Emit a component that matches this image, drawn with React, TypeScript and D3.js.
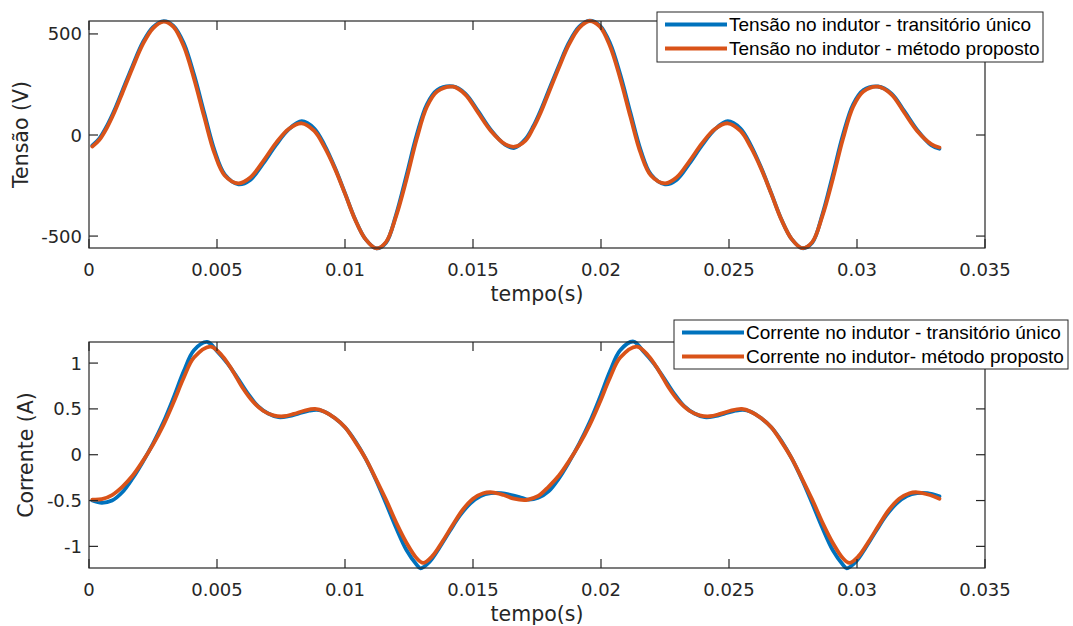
import * as d3 from "d3";

// eixo do tempo, comum aos dois gráficos
const xTicks = [0, 0.005, 0.01, 0.015, 0.02, 0.025, 0.03, 0.035];
const xTickLabels = ["0", "0.005", "0.01", "0.015", "0.02", "0.025", "0.03", "0.035"];
const tensaoTicks = [-500, 0, 500];
const correnteTicks = [-1, -0.5, 0, 0.5, 1];
const correnteTickLabels = ["-1", "-0.5", "0", "0.5", "1"];

// tensão no indutor (V)
const tTensao = [
  0.00013, 0.0004, 0.0007, 0.001, 0.0013, 0.0017, 0.0021, 0.0025, 0.00292, 0.0033,
  0.0037, 0.0041, 0.0045, 0.0049, 0.0053, 0.00584, 0.0063, 0.0068, 0.0073, 0.0078,
  0.00831, 0.0088, 0.0092, 0.0096, 0.01, 0.0104, 0.0108, 0.01123, 0.0116, 0.012,
  0.0124, 0.0128, 0.0132, 0.0136, 0.01422, 0.0147, 0.0152, 0.0157, 0.01625, 0.01662,
  0.01705, 0.01735, 0.01765, 0.01795, 0.01835, 0.01875, 0.01915, 0.01955, 0.01995, 0.02035,
  0.02075, 0.02115, 0.02155, 0.02195, 0.0225, 0.02295, 0.02345, 0.02395, 0.02445, 0.02495,
  0.02545, 0.02585, 0.02625, 0.02665, 0.02705, 0.02745, 0.02786, 0.02825, 0.02865, 0.02905,
  0.02945, 0.02985, 0.03025, 0.03082, 0.03135, 0.03185, 0.03235, 0.0329, 0.03322,
];
const vTransitorio = [
  -52, -18, 45, 125, 218, 342, 458, 534, 563, 540,
  455, 300, 110, -75, -195, -244, -222, -142, -50, 28,
  68, 32, -50, -160, -288, -418, -515, -561, -533, -392,
  -200, 0, 152, 222, 240, 205, 118, 25, -48, -64,
  -20, 42, 124, 218, 342, 458, 536, 566, 542, 455,
  300, 110, -75, -195, -244, -222, -142, -50, 28, 68,
  32, -50, -160, -288, -418, -515, -560, -533, -392, -200,
  0, 152, 222, 240, 205, 118, 25, -50, -68,
];
const vProposto = [
  -57, -25, 36, 115, 207, 332, 448, 528, 561, 535,
  440, 280, 90, -90, -200, -239, -210, -130, -40, 30,
  58, 20, -60, -165, -290, -420, -515, -561, -530, -400,
  -220, -20, 140, 215, 239, 200, 110, 20, -45, -58,
  -28, 34, 113, 207, 332, 448, 530, 564, 537, 440,
  280, 90, -90, -200, -239, -210, -130, -40, 30, 58,
  20, -60, -165, -290, -420, -515, -560, -530, -400, -220,
  -20, 140, 215, 239, 200, 110, 20, -45, -62,
];

// corrente no indutor (A)
const tCorrTrans = [
  0.00013, 0.0005, 0.0009, 0.0013, 0.0017, 0.0021, 0.0025, 0.0029, 0.0033, 0.0037,
  0.0041, 0.00462, 0.005, 0.0054, 0.0058, 0.0062, 0.0066, 0.007, 0.0074, 0.0078,
  0.0082, 0.0086, 0.0089, 0.0092, 0.0096, 0.01, 0.0104, 0.0108, 0.0112, 0.0116,
  0.012, 0.0124, 0.0128, 0.01295, 0.0133, 0.0137, 0.0141, 0.0145, 0.0149, 0.0153,
  0.0157, 0.0161, 0.0165, 0.0169,
  0.01715, 0.01755, 0.01795, 0.01835, 0.01875, 0.01915, 0.01955, 0.01995, 0.02035, 0.02075,
  0.02127, 0.02165, 0.02205, 0.02245, 0.02285, 0.02325, 0.02365, 0.02405, 0.02445, 0.02485,
  0.02525, 0.02555, 0.02585, 0.02625, 0.02665, 0.02705, 0.02745, 0.02785, 0.02825, 0.02865,
  0.02905, 0.02945, 0.0296, 0.02995, 0.03035, 0.03075, 0.03115, 0.03155, 0.03195, 0.03235,
  0.03275, 0.03322,
];
const iTransitorio = [
  -0.5, -0.525, -0.5, -0.41, -0.26, -0.08, 0.12, 0.35, 0.62, 0.91,
  1.14, 1.23, 1.13, 1.0, 0.84, 0.67, 0.53, 0.45, 0.41, 0.42,
  0.45, 0.48, 0.49, 0.47, 0.4, 0.3, 0.15, -0.04, -0.27, -0.53,
  -0.8, -1.04, -1.2, -1.24, -1.17, -1.01, -0.83, -0.66, -0.53, -0.45,
  -0.42, -0.42, -0.44, -0.47,
  -0.49, -0.47, -0.4, -0.26, -0.08, 0.12, 0.35, 0.62, 0.91, 1.14,
  1.235, 1.13, 1.0, 0.84, 0.67, 0.53, 0.45, 0.41, 0.42, 0.45,
  0.48, 0.49, 0.47, 0.4, 0.3, 0.15, -0.04, -0.27, -0.53, -0.8,
  -1.04, -1.2, -1.24, -1.17, -1.01, -0.83, -0.66, -0.53, -0.45, -0.42,
  -0.42, -0.455,
];
const tCorrProp = [
  0.00013, 0.0005, 0.0009, 0.0013, 0.0017, 0.0021, 0.0025, 0.0029, 0.0033, 0.0037,
  0.0041, 0.00475, 0.0052, 0.0056, 0.006, 0.0064, 0.0068, 0.0072, 0.0076, 0.008,
  0.0084, 0.00883, 0.0092, 0.0096, 0.01, 0.0104, 0.0108, 0.0112, 0.0116, 0.012,
  0.0124, 0.0128, 0.01305, 0.0134, 0.0138, 0.0142, 0.0146, 0.015, 0.0154, 0.01575,
  0.0162, 0.0166, 0.017,
  0.01715, 0.01755, 0.01795, 0.01835, 0.01875, 0.01915, 0.01955, 0.01995, 0.02035, 0.02075,
  0.0214, 0.02185, 0.02225, 0.02265, 0.02305, 0.02345, 0.02385, 0.02425, 0.02465, 0.02505,
  0.0255, 0.02585, 0.02625, 0.02665, 0.02705, 0.02745, 0.02785, 0.02825, 0.02865, 0.02905,
  0.02945, 0.0297, 0.03005, 0.03045, 0.03085, 0.03125, 0.03165, 0.03205, 0.03235, 0.03285,
  0.03322,
];
const iProposto = [
  -0.49, -0.485, -0.44, -0.35, -0.23, -0.07, 0.11, 0.32, 0.57, 0.84,
  1.06, 1.18, 1.08, 0.92, 0.73, 0.58, 0.48, 0.43, 0.42, 0.445,
  0.48, 0.5, 0.47, 0.4, 0.3, 0.14, -0.04, -0.26, -0.49, -0.74,
  -0.96, -1.13, -1.18, -1.11, -0.95, -0.77, -0.6, -0.48, -0.42, -0.41,
  -0.44, -0.48, -0.495,
  -0.49, -0.45, -0.35, -0.23, -0.07, 0.11, 0.32, 0.57, 0.84, 1.06,
  1.18, 1.08, 0.92, 0.73, 0.58, 0.48, 0.43, 0.42, 0.445, 0.48,
  0.5, 0.47, 0.4, 0.3, 0.14, -0.04, -0.26, -0.49, -0.74, -0.96,
  -1.13, -1.18, -1.11, -0.95, -0.77, -0.6, -0.48, -0.42, -0.41, -0.44,
  -0.48,
];

const legendTensao = ["Tensão no indutor - transitório único", "Tensão no indutor - método proposto"];
const legendCorrente = ["Corrente no indutor - transitório único", "Corrente no indutor- método proposto"];

const BLUE = "#0072BD";
const ORANGE = "#D95319";
const AX = "#262626";
const TICK_FONT = "DejaVu Sans, sans-serif";
const LEG_FONT = "Liberation Sans, Arial, sans-serif";

const x = d3.scaleLinear().domain([0, 0.035]).range([89, 985]);

type Serie = { t: number[]; v: number[]; color: string };

function Panel({ top, bottom, yDomain, yTicks, yTickLabels, yLabel, yLabelX, series, legend, legBox }: {
  top: number; bottom: number; yDomain: [number, number]; yTicks: number[]; yTickLabels: string[];
  yLabel: string; yLabelX: number; series: Serie[]; legend: string[];
  legBox: { x: number; y: number; w: number; h: number };
}) {
  const y = d3.scaleLinear().domain(yDomain).range([bottom, top]);
  const [x0, x1] = x.range();
  const tl = 9;
  const rowY = [legBox.y + 12.5, legBox.y + 36.5];
  return (
    <g>
      {series.map((s, k) => {
        const line = d3.line<number>().x((_, i) => x(s.t[i])).y((d) => y(d)).curve(d3.curveCatmullRom.alpha(0.5));
        return <path key={k} d={line(s.v) || ""} fill="none" stroke={s.color} strokeWidth={3.8} strokeLinejoin="round" strokeLinecap="round" />;
      })}
      <rect x={x0} y={top} width={x1 - x0} height={bottom - top} fill="none" stroke={AX} strokeWidth={1.2} />
      {xTicks.map((t, i) => (
        <g key={i}>
          <line x1={x(t)} x2={x(t)} y1={bottom} y2={bottom - tl} stroke={AX} strokeWidth={1.2} />
          <line x1={x(t)} x2={x(t)} y1={top} y2={top + tl} stroke={AX} strokeWidth={1.2} />
          <text x={x(t)} y={bottom + 28} textAnchor="middle" fontFamily={TICK_FONT} fontSize={18} fill={AX}>{xTickLabels[i]}</text>
        </g>
      ))}
      {yTicks.map((v, i) => (
        <g key={i}>
          <line x1={x0} x2={x0 + tl} y1={y(v)} y2={y(v)} stroke={AX} strokeWidth={1.2} />
          <line x1={x1} x2={x1 - tl} y1={y(v)} y2={y(v)} stroke={AX} strokeWidth={1.2} />
          <text x={82} y={y(v) + 6.5} textAnchor="end" fontFamily={TICK_FONT} fontSize={18} fill={AX}>{yTickLabels[i]}</text>
        </g>
      ))}
      <text x={(x0 + x1) / 2} y={bottom + 53} textAnchor="middle" fontFamily={TICK_FONT} fontSize={20.5} fill={AX}>tempo(s)</text>
      <text transform={`translate(${yLabelX},${(top + bottom) / 2}) rotate(-90)`} textAnchor="middle" fontFamily={TICK_FONT} fontSize={20.5} fill={AX}>{yLabel}</text>
      <rect x={legBox.x} y={legBox.y} width={legBox.w} height={legBox.h} fill="#fff" stroke={AX} strokeWidth={1} />
      {legend.map((name, i) => (
        <g key={i}>
          <line x1={legBox.x + 8} x2={legBox.x + 70} y1={rowY[i]} y2={rowY[i]} stroke={series[i].color} strokeWidth={3.8} />
          <text x={legBox.x + 72} y={rowY[i] + 6.8} fontFamily={LEG_FONT} fontSize={19} fill="#000">{name}</text>
        </g>
      ))}
    </g>
  );
}

export default function App() {
  return (
    <svg width={1073} height={626} style={{ position: "absolute", left: 0, top: 0, background: "#fff" }}>
      <Panel
        top={21}
        bottom={248}
        yDomain={[-559, 564]}
        yTicks={tensaoTicks}
        yTickLabels={tensaoTicks.map(String)}
        yLabel="Tensão (V)"
        yLabelX={28}
        series={[
          { t: tTensao, v: vTransitorio, color: BLUE },
          { t: tTensao, v: vProposto, color: ORANGE },
        ]}
        legend={legendTensao}
        legBox={{ x: 657, y: 12, w: 386, h: 50 }}
      />
      <Panel
        top={342}
        bottom={568}
        yDomain={[-1.236, 1.23]}
        yTicks={correnteTicks}
        yTickLabels={correnteTickLabels}
        yLabel="Corrente (A)"
        yLabelX={33}
        series={[
          { t: tCorrTrans, v: iTransitorio, color: BLUE },
          { t: tCorrProp, v: iProposto, color: ORANGE },
        ]}
        legend={legendCorrente}
        legBox={{ x: 674, y: 320, w: 394, h: 49 }}
      />
    </svg>
  );
}
